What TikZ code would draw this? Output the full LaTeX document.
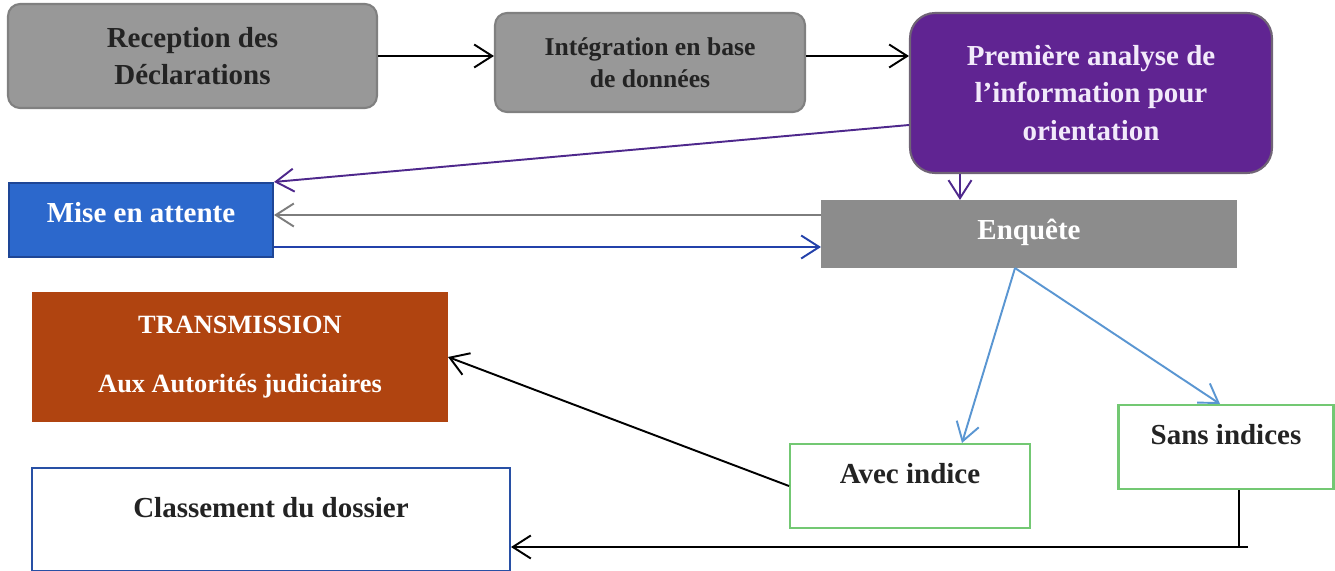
\documentclass[tikz,border=0pt]{standalone}
\usepackage{fontspec}
\setmainfont{Liberation Serif}
\usetikzlibrary{arrows.meta,calc}

\definecolor{boxgray}{RGB}{152,152,152}
\definecolor{boxedge}{RGB}{128,128,128}
\definecolor{textdark}{RGB}{35,35,35}
\definecolor{purplebox}{RGB}{96,36,146}
\definecolor{purpleedge}{RGB}{112,100,118}
\definecolor{purpletext}{RGB}{242,234,250}
\definecolor{enqgray}{RGB}{140,140,140}
\definecolor{misefill}{RGB}{44,104,204}
\definecolor{miseedge}{RGB}{30,70,150}
\definecolor{transfill}{RGB}{176,68,16}
\definecolor{classedge}{RGB}{40,80,165}
\definecolor{indicegreen}{RGB}{115,200,115}
\definecolor{linkpurple}{RGB}{78,40,140}
\definecolor{linkgray}{RGB}{125,125,125}
\definecolor{linkblue}{RGB}{35,65,170}
\definecolor{linklight}{RGB}{90,150,210}

\begin{document}
\begin{tikzpicture}[x=0.02cm,y=-0.02cm,
    >={Straight Barb[length=3.6mm,width=4.6mm]},
    box/.style={inner sep=0pt,align=center,line width=1.2pt,
        font=\bfseries\fontsize{16.5}{21}\selectfont},
    graybox/.style={box,rounded corners=0.24cm,fill=boxgray,draw=boxedge,text=textdark},
    indicebox/.style={box,draw=indicegreen,fill=white,text=textdark,text depth=0.5cm},
    link/.style={->,line width=1.1pt}]
\useasboundingbox (0,0) rectangle (1335,571);

% Top row
\node[graybox,minimum width=7.38cm,minimum height=2.08cm] (recep) at (192.5,56)
    {Reception des\\Déclarations};
\node[graybox,minimum width=6.2cm,minimum height=1.98cm,
    font=\bfseries\fontsize{14.6}{18}\selectfont] (integ) at (650,62.5)
    {Intégration en base\\de données};
\node[box,rounded corners=0.5cm,fill=purplebox,draw=purpleedge,text=purpletext,
    minimum width=7.24cm,minimum height=3.2cm,
    font=\bfseries\fontsize{16.5}{21.3}\selectfont] (analyse) at (1091,93)
    {Première analyse de\\l’information pour\\orientation};

% Middle row
\node[box,fill=misefill,draw=miseedge,text=white,text depth=0.32cm,
    minimum width=5.28cm,minimum height=1.48cm] (mise) at (141,220) {Mise en attente};
\node[box,fill=enqgray,draw=enqgray,text=white,text depth=0.2cm,
    minimum width=8.28cm,minimum height=1.32cm] (enquete) at (1029,234) {Enquête};

% Results
\node[box,fill=transfill,draw=transfill,text=white,minimum width=8.28cm,minimum height=2.56cm,
    font=\bfseries\fontsize{15}{18}\selectfont] (trans) at (240,357)
    {TRANSMISSION\\[16pt]Aux Autorités judiciaires};
\node[box,draw=classedge,fill=white,text=textdark,text depth=0.5cm,
    minimum width=9.56cm,minimum height=2.06cm] (classement) at (271,519.5)
    {Classement du dossier};
\node[indicebox,minimum width=4.8cm,minimum height=1.68cm] (avec) at (910,486) {Avec indice};
\node[indicebox,minimum width=4.3cm,minimum height=1.68cm] (sans) at (1226,447) {Sans indices};

% Arrows between the boxes
\draw[link] (recep.east) -- (recep.east -| integ.west);
\draw[link] (integ.east |- recep.east) -- (recep.east -| analyse.west);
\draw[link,linkpurple] ($(analyse.west)+(0,32)$) -- (mise.north east);
\draw[link,linkpurple] ($(analyse.south)+(-131,0)$) -- ($(enquete.north)+(-69,0)$);
\draw[link,linkgray] ($(enquete.west)+(0,-19)$) coordinate (ga) -- (ga -| mise.east);
\draw[link,linkblue] ($(mise.east)+(0,27)$) coordinate (bl) -- (bl -| enquete.west);
\draw[link,linklight] ($(enquete.south)+(-14,0)$) coordinate (fork) -- ($(avec.north)+(52,0)$);
\draw[link,linklight] (fork) -- ($(sans.north)+(-6,0)$);
\draw[link] (avec.west) -- (trans.east);

% Back to the file
\coordinate (corner) at (1239,547);
\draw[line width=1.1pt] (sans.south -| corner) -- (corner) -- ++(9,0);
\draw[link] (corner) -- (corner -| classement.east);

\end{tikzpicture}
\end{document}
